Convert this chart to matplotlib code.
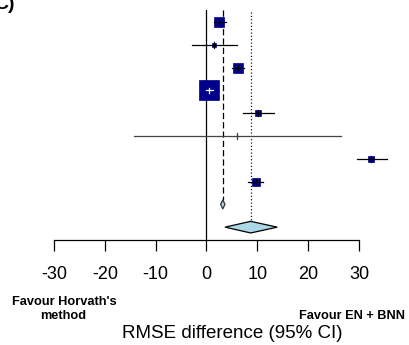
import matplotlib
matplotlib.use("Agg")
import matplotlib.pyplot as plt
import numpy as np

plt.rcParams['font.family'] = ['Liberation Sans', 'DejaVu Sans']
plt.rcParams['lines.scale_dashes'] = False

# ---- data (RMSE difference, 95% CI) ----
est = [2.46, 1.48, 6.14, 0.49, 10.19, 5.94, 32.46, 9.74]
lo = [1.57, -2.85, 4.98, -0.10, 7.10, -14.27, 29.55, 8.16]
hi = [3.84, 5.97, 7.38, 1.30, 13.30, 26.44, 35.45, 11.10]
weights = [13.8, 1.6, 13.8, 55.2, 3.5, 0.1, 3.5, 8.8]   # percent
fixed_est, fixed_lo, fixed_hi = 3.21, 2.79, 3.64
random_est, random_lo, random_hi = 8.70, 3.64, 13.93
xticks = [-30, -20, -10, 0, 10, 20, 30]
xticklabels = ["-30", "-20", "-10", "0", "10", "20", "30"]

W, H, DPI = 410, 345, 100
fig = plt.figure(figsize=(W / DPI, H / DPI), dpi=DPI)
ax = fig.add_axes([0, 0, 1, 1])
xmin, xmax = -40.62, 40.04
ax.set_xlim(xmin, xmax)
ax.set_ylim(14.17, -0.965)
ax.patch.set_visible(False)
px_per_unit = W / (xmax - xmin)

navy = '#00008B'
n = len(est)
rows = np.arange(n)
axis_y = 9.56
top_y = -0.53

# reference lines
ax.plot([0, 0], [top_y, axis_y], color='black', lw=0.9, zorder=1)
ax.plot([fixed_est, fixed_est], [top_y, n + 0 - 0.2], color='black', lw=0.9,
        dashes=(4.5, 2.2), zorder=1)
ax.plot([random_est, random_est], [top_y + 0.08, n + 1 - 0.255], color='black', lw=0.9,
        dashes=(0.8, 1.6), zorder=1)

# study squares and CI lines
for i in range(n):
    side_px = 2.7 * np.sqrt(weights[i])
    side_px = max(side_px, 1.2)
    ms = side_px * 72 / DPI
    ax.plot(est[i], rows[i], marker='s', ms=ms, mfc=navy, mec=navy, mew=0.5,
            ls='none', zorder=3)
    half = side_px / 2 / px_per_unit
    inside = (lo[i] > est[i] - half) and (hi[i] < est[i] + half)
    col = 'white' if inside else ('#444444' if i == 5 else 'black')
    ax.plot([lo[i], hi[i]], [rows[i], rows[i]], color=col, lw=0.9, zorder=4)
    ax.plot([est[i], est[i]], [rows[i] - 0.12, rows[i] + 0.12], color=col,
            lw=0.9, zorder=4)

# diamonds
def diamond(e, l, h, y, hh, ec):
    ax.fill([l, e, h, e], [y, y - hh, y, y + hh], facecolor='#ADD8E6',
            edgecolor=ec, lw=0.9, zorder=5)

diamond(fixed_est, fixed_lo, fixed_hi, n, 0.2, '#333333')
diamond(random_est, random_lo, random_hi, n + 1, 0.255, 'black')

# axis
for s in ['top', 'left', 'right']:
    ax.spines[s].set_visible(False)
ax.spines['bottom'].set_position(('data', axis_y))
ax.spines['bottom'].set_bounds(-30, 30)
ax.spines['bottom'].set_linewidth(0.9)
ax.set_xticks(xticks)
ax.set_xticklabels(xticklabels)
ax.tick_params(axis='x', direction='out', length=8, width=0.9, labelsize=13, pad=11)
ax.set_yticks([])

def ft(xp, yp, s, **kw):
    fig.text(xp / W, 1 - yp / H, s, **kw)

ft(64, 302, "Favour Horvath's", ha='center', va='center', fontsize=9.2, fontweight='bold')
ft(63, 316, "method", ha='center', va='center', fontsize=9.2, fontweight='bold')
ft(352, 316, "Favour EN + BNN", ha='center', va='center', fontsize=9.2, fontweight='bold')
ft(232, 334, "RMSE difference (95% CI)", ha='center', va='center', fontsize=13.5)
ft(-6, 9, "C)", ha='left', va='baseline', fontsize=14, fontweight='bold')

fig.savefig('out.png', dpi=DPI)
